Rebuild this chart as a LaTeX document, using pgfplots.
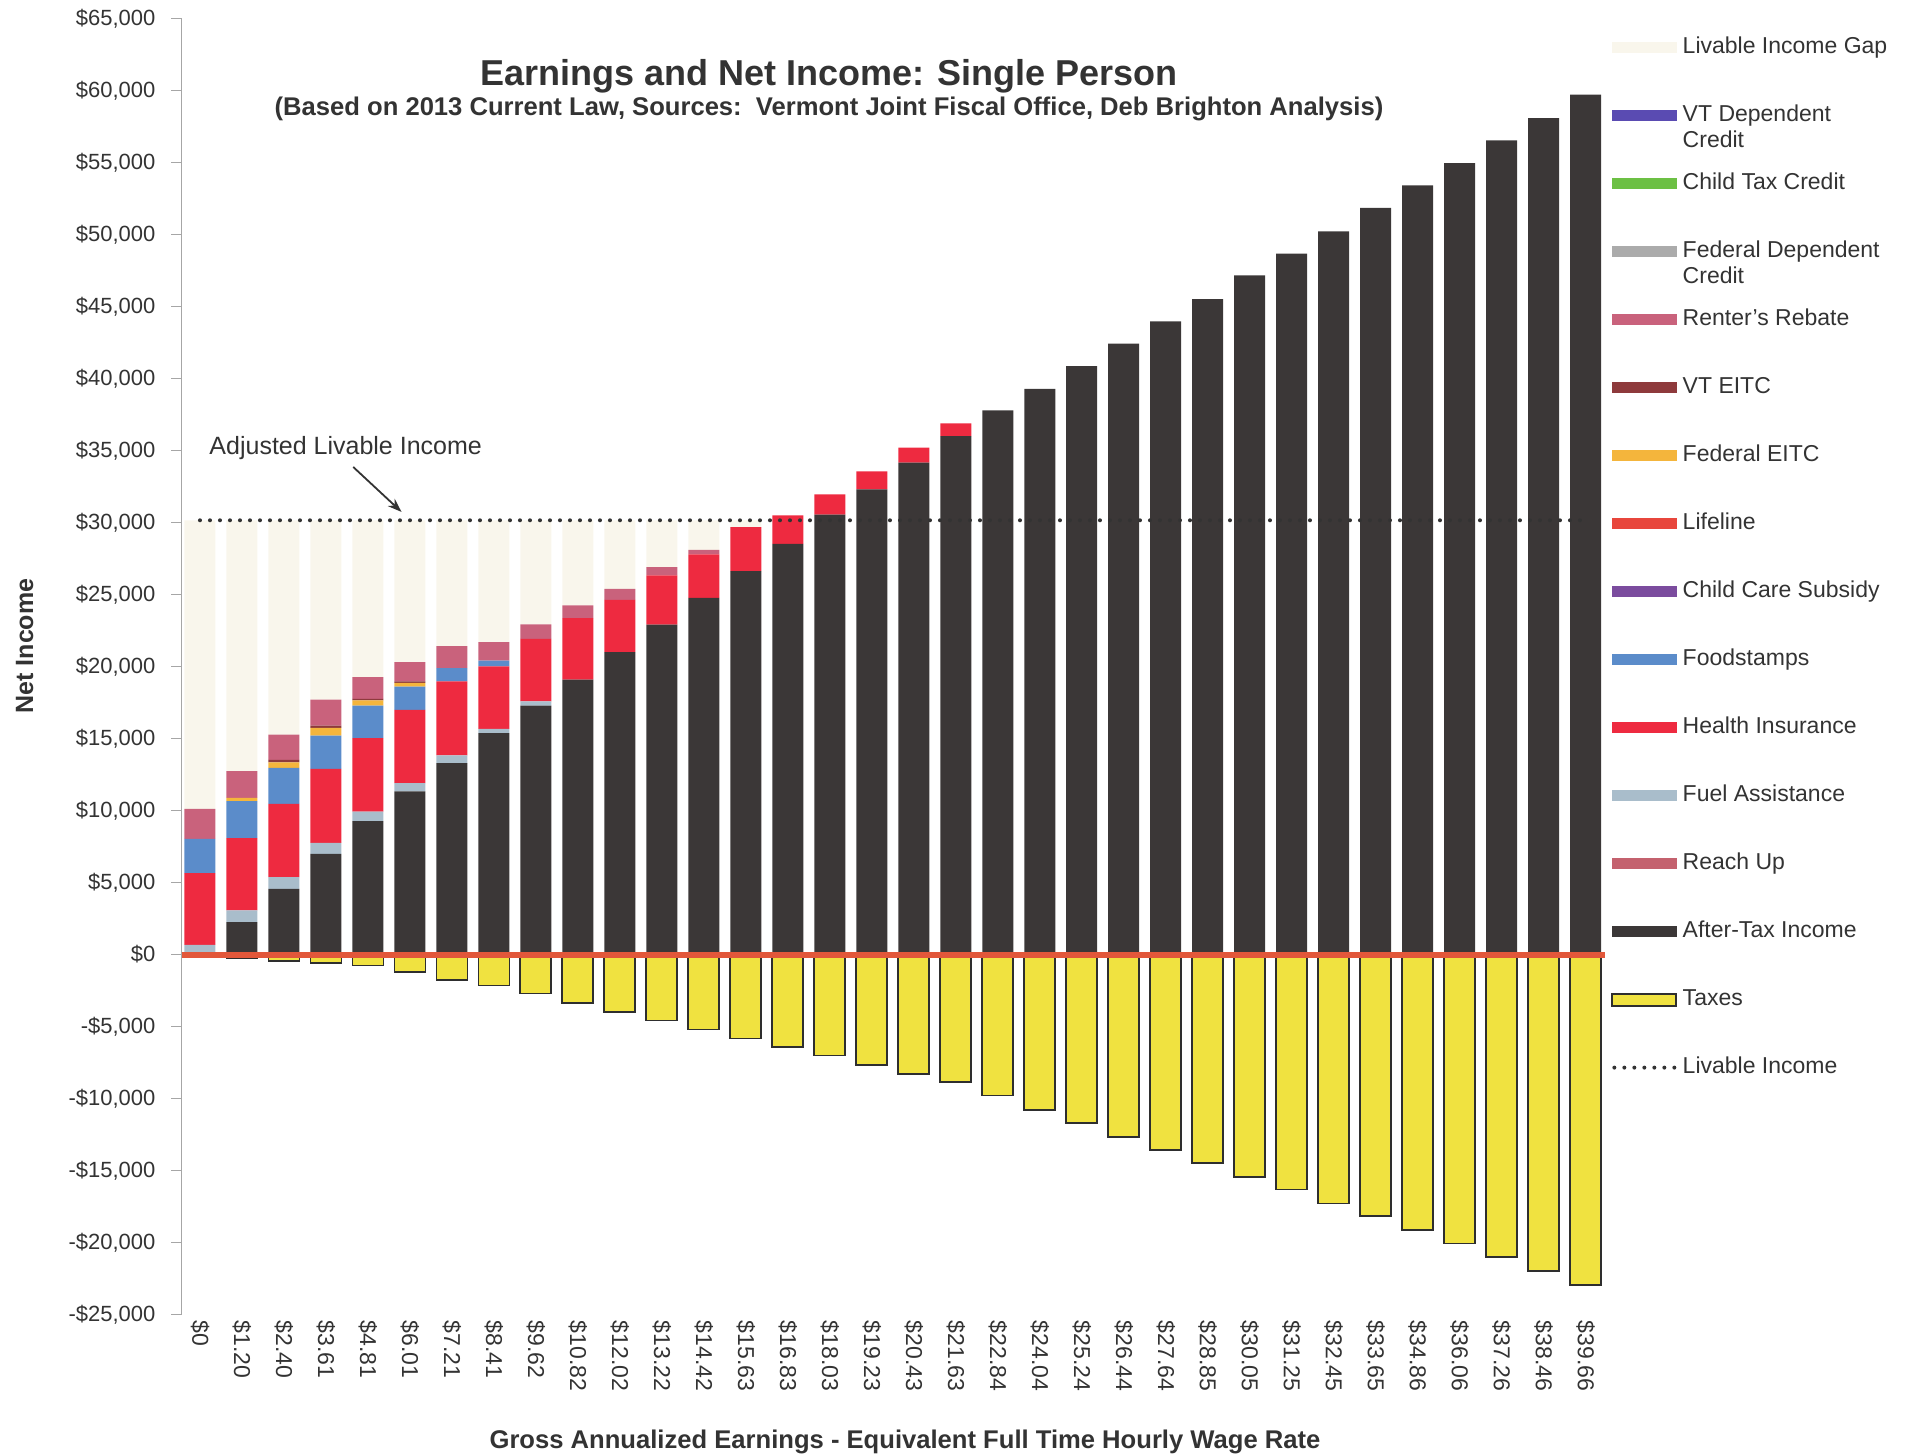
\documentclass[border=0pt]{standalone}
\usepackage{fontspec}
\setmainfont{Liberation Sans}
\usepackage{pgfplots}
\pgfplotsset{compat=1.18}
\usepackage{pgfplotstable}
\usetikzlibrary{arrows.meta}

\definecolor{atc}{HTML}{3B3737}
\definecolor{fac}{HTML}{A9BDCB}
\definecolor{hic}{HTML}{EE2A40}
\definecolor{fsc}{HTML}{5B8CCA}
\definecolor{fec}{HTML}{F4B53C}
\definecolor{vec}{HTML}{8E3A3C}
\definecolor{rrc}{HTML}{C9627C}
\definecolor{ruc}{HTML}{C4616E}
\definecolor{gapc}{HTML}{F9F6EC}
\definecolor{vdc}{HTML}{5A4BB2}
\definecolor{ctc}{HTML}{6CC044}
\definecolor{fdc}{HTML}{ABABAB}
\definecolor{llc}{HTML}{E8463C}
\definecolor{ccc}{HTML}{7B4C9E}
\definecolor{taxfill}{HTML}{F0E240}
\definecolor{taxdraw}{HTML}{2E2E2E}
\definecolor{zeroc}{HTML}{E2573A}
\definecolor{txt}{HTML}{333333}

% x AT=after-tax FA=fuel HI=health FS=foodstamps FE=fed EITC VE=VT EITC RR=renter's rebate
\pgfplotstableread{
x  AT     FA   HI    FS    FE   VE   RR    GAP    TAX
0  0      670  4980  2380  0    0    2080  20040  0
1  2250   810  5020  2570  230  0    1850  17420  -250
2  4560   810  5090  2500  390  160  1760  14880  -460
3  6990   760  5140  2315  530  160  1810  12445  -580
4  9260   670  5090  2270  350  115  1505  10890  -760
5  11320  580  5090  1620  250  100  1340  9850   -1200
6  13290  530  5140  925   0    0    1530  8735   -1780
7  15370  300  4330  415   0    0    1275  8460   -2150
8  17290  280  4350  0     0    0    1000  7230   -2710
9  19080  0    4280  0     0    0    880   5910   -3360
10 21000  0    3630  0     0    0    765   4755   -3980
11 22900  0    3425  0     0    0    580   3245   -4580
12 24770  0    3010  0     0    0    325   2045   -5210
13 26620  0    3060  0     0    0    0     470    -5830
14 28520  0    1970  0     0    0    0     0      -6440
15 30540  0    1410  0     0    0    0     0      -7010
16 32300  0    1250  0     0    0    0     0      -7690
17 34150  0    1050  0     0    0    0     0      -8290
18 36000  0    880   0     0    0    0     0      -8870
19 37780  0    0     0     0    0    0     0      -9790
20 39280  0    0     0     0    0    0     0      -10770
21 40850  0    0     0     0    0    0     0      -11690
22 42410  0    0     0     0    0    0     0      -12660
23 43960  0    0     0     0    0    0     0      -13590
24 45510  0    0     0     0    0    0     0      -14470
25 47150  0    0     0     0    0    0     0      -15440
26 48660  0    0     0     0    0    0     0      -16320
27 50210  0    0     0     0    0    0     0      -17290
28 51850  0    0     0     0    0    0     0      -18170
29 53400  0    0     0     0    0    0     0      -19150
30 54950  0    0     0     0    0    0     0      -20070
31 56530  0    0     0     0    0    0     0      -21000
32 58080  0    0     0     0    0    0     0      -21990
33 59700  0    0     0     0    0    0     0      -22920
}\budget

\pgfplotsset{
  base/.style={
    at={(90.75pt,69.7pt)}, anchor=south west,
    scale only axis, width=711.5pt, height=648.1pt,
    xmin=-0.44, xmax=33.45, ymin=-25000, ymax=65000,
    bar width=15.5pt,
  },
  swatch/.style={legend image code/.code={\fill[#1] (0pt,-2.5pt) rectangle (32pt,2.5pt);}},
}

\begin{document}
\begin{tikzpicture}
\path[use as bounding box] (0,0) rectangle (956.5pt,727pt);

% taxes, drawn below zero on their own so they do not stack with the rest
\begin{axis}[base, hide axis, ybar]
\addplot[fill=taxfill, draw=taxdraw, line width=0.9pt] table[x=x, y=TAX]{\budget};
\end{axis}

\begin{axis}[base, ybar stacked,
  axis y line*=left, axis x line*=bottom,
  x axis line style={draw=none},
  y axis line style={draw=gray!70, line width=0.6pt},
  xtick style={draw=none},
  ytick style={draw=gray!70, line width=0.6pt},
  tick align=outside, major tick length=5pt,
  ytick={-25000,-20000,...,65000},
  yticklabels={{-\$25,000},{-\$20,000},{-\$15,000},{-\$10,000},{-\$5,000},{\$0},{\$5,000},{\$10,000},{\$15,000},{\$20,000},{\$25,000},{\$30,000},{\$35,000},{\$40,000},{\$45,000},{\$50,000},{\$55,000},{\$60,000},{\$65,000}},
  yticklabel style={font=\fontsize{11}{13}\selectfont, text=txt, xshift=-4.5pt},
  xtick={0,...,33},
  xticklabels={\$0,\$1.20,\$2.40,\$3.61,\$4.81,\$6.01,\$7.21,\$8.41,\$9.62,\$10.82,\$12.02,\$13.22,\$14.42,\$15.63,\$16.83,\$18.03,\$19.23,\$20.43,\$21.63,\$22.84,\$24.04,\$25.24,\$26.44,\$27.64,\$28.85,\$30.05,\$31.25,\$32.45,\$33.65,\$34.86,\$36.06,\$37.26,\$38.46,\$39.66},
  xticklabel style={rotate=-90, anchor=west, font=\fontsize{11.5}{13}\selectfont, text=txt},
  xticklabel shift=-5.5pt,
  ylabel={Net Income},
  ylabel style={at={(axis description cs:-0.1103,0.5158)}, anchor=center, rotate=0, font=\bfseries\fontsize{12.5}{14}\selectfont, text=txt},
  xlabel={Gross Annualized Earnings - Equivalent Full Time Hourly Wage Rate},
  xlabel style={at={(axis description cs:0.5084,-0.0984)}, anchor=center, font=\bfseries\fontsize{12.8}{14}\selectfont, text=txt},
  legend style={at={(1.0046,0.9878)}, anchor=north west, draw=none, fill=none,
    inner sep=0pt, row sep=21.0pt, font=\fontsize{11.5}{13}\selectfont, text=txt,
    nodes={inner sep=1pt, inner xsep=2.2pt, text height=8.5pt, text depth=2.5pt}},
  legend cell align=left,
]
\addplot[forget plot, fill=atc, draw=none] table[x=x, y=AT]{\budget};
\addplot[forget plot, fill=fac, draw=none] table[x=x, y=FA]{\budget};
\addplot[forget plot, fill=hic, draw=none] table[x=x, y=HI]{\budget};
\addplot[forget plot, fill=fsc, draw=none] table[x=x, y=FS]{\budget};
\addplot[forget plot, fill=fec, draw=none] table[x=x, y=FE]{\budget};
\addplot[forget plot, fill=vec, draw=none] table[x=x, y=VE]{\budget};
\addplot[forget plot, fill=rrc, draw=none] table[x=x, y=RR]{\budget};
\addplot[forget plot, fill=gapc, draw=none] table[x=x, y=GAP]{\budget};

\addlegendimage{swatch=gapc}\addlegendentry{Livable Income Gap}
\addlegendimage{swatch=vdc}\addlegendentry{\smash{\parbox[t]{110pt}{VT Dependent\\Credit}}}
\addlegendimage{swatch=ctc}\addlegendentry{Child Tax Credit}
\addlegendimage{swatch=fdc}\addlegendentry{\smash{\parbox[t]{110pt}{Federal Dependent\\Credit}}}
\addlegendimage{swatch=rrc}\addlegendentry{Renter's Rebate}
\addlegendimage{swatch=vec}\addlegendentry{VT EITC}
\addlegendimage{swatch=fec}\addlegendentry{Federal EITC}
\addlegendimage{swatch=llc}\addlegendentry{Lifeline}
\addlegendimage{swatch=ccc}\addlegendentry{Child Care Subsidy}
\addlegendimage{swatch=fsc}\addlegendentry{Foodstamps}
\addlegendimage{swatch=hic}\addlegendentry{Health Insurance}
\addlegendimage{swatch=fac}\addlegendentry{Fuel Assistance}
\addlegendimage{swatch=ruc}\addlegendentry{Reach Up}
\addlegendimage{swatch=atc}\addlegendentry{After-Tax Income}
\addlegendimage{legend image code/.code={\filldraw[fill=taxfill, draw=taxdraw, line width=0.9pt] (0pt,-3pt) rectangle (32pt,3pt);}}\addlegendentry{Taxes}
\addlegendimage{legend image code/.code={\draw[txt, line width=2pt, line cap=round, dash pattern=on 0pt off 5pt] (1pt,0pt) -- (32pt,0pt);}}\addlegendentry{Livable Income}
\end{axis}

% lines and notes on top of the bars
\begin{axis}[base, hide axis, clip=false]
\addplot[zeroc, line width=3pt] coordinates {(-0.44,0) (33.45,0)};
\addplot[txt, line width=2pt, line cap=round, dash pattern=on 0pt off 5pt] coordinates {(0,30150) (33,30150)};
\node[font=\fontsize{12.5}{14}\selectfont, text=txt] at (axis cs:3.47,35190) {Adjusted Livable Income};
\draw[-{Stealth[length=7pt,width=5pt]}, line width=0.9pt, txt] (axis cs:3.65,33850) -- (axis cs:4.80,30730);
\end{axis}

\node[font=\bfseries\fontsize{18}{20}\selectfont, text=txt] at (414.5pt,689pt) {Earnings and Net Income: Single Person};
\node[font=\bfseries\fontsize{12.8}{14}\selectfont, text=txt] at (414.5pt,672.5pt) {(Based on 2013 Current Law, Sources:\ \ Vermont Joint Fiscal Office, Deb Brighton Analysis)};
\end{tikzpicture}
\end{document}
